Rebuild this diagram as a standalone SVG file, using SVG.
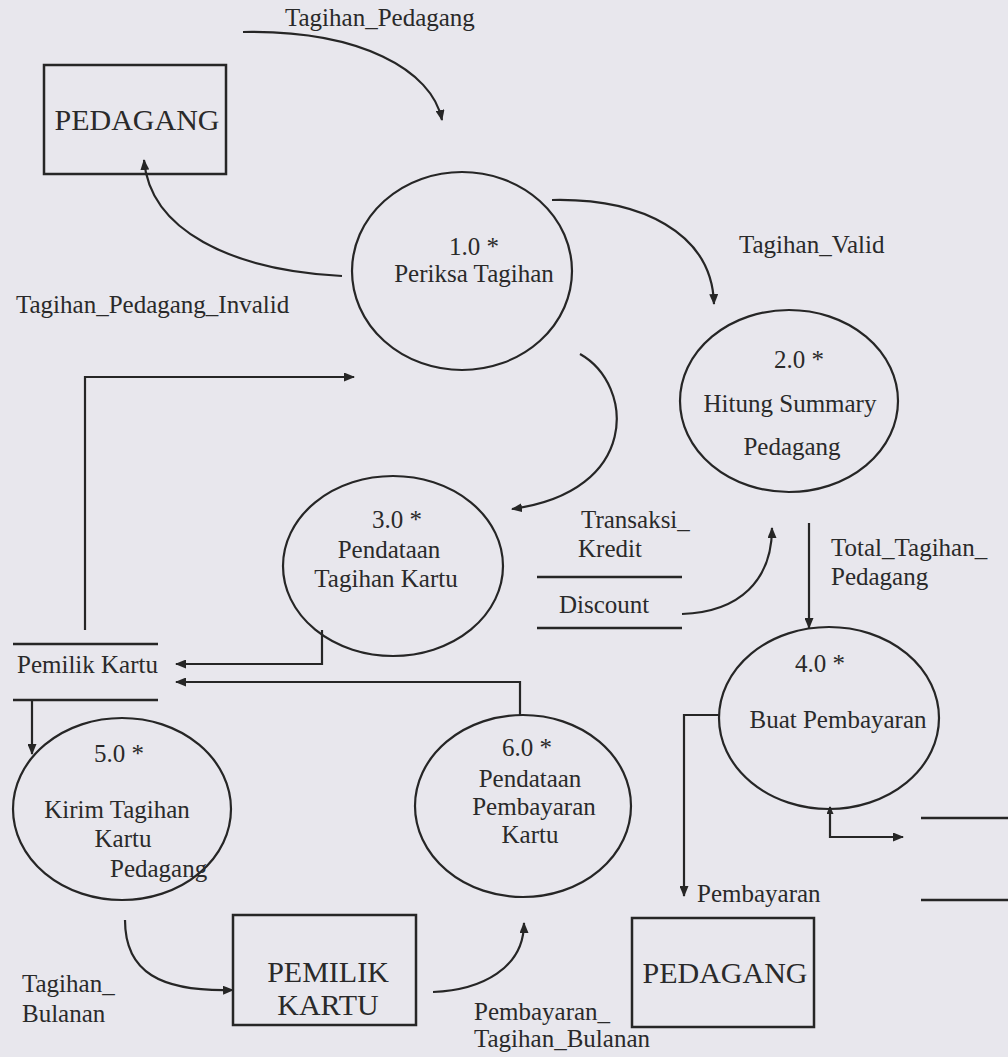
<svg xmlns="http://www.w3.org/2000/svg" width="1008" height="1057" viewBox="0 0 1008 1057">
<style>
text{font-family:"Liberation Serif","Times New Roman",serif;fill:#2a2a2a;font-size:25px}
.ent{font-size:30px;text-anchor:middle}
.mid{text-anchor:middle}
.proc ellipse{fill:none;stroke:#262626;stroke-width:2.2}
.box{fill:none;stroke:#262626;stroke-width:2.5}
.store line{stroke:#262626;stroke-width:2.5}
.flow path{fill:none;stroke:#262626;stroke-width:2.2}
</style>
<defs>
<marker id="arr" markerUnits="userSpaceOnUse" markerWidth="11" markerHeight="9" refX="10" refY="4.5" orient="auto">
<path d="M0,0 L11,4.5 L0,9 z" fill="#262626"/>
</marker>
<marker id="sarr" markerUnits="userSpaceOnUse" markerWidth="8" markerHeight="7" refX="7" refY="3.5" orient="auto-start-reverse">
<path d="M0,0 L8,3.5 L0,7 z" fill="#262626"/>
</marker>
</defs>
<rect x="0" y="0" width="1008" height="1057" fill="#e8e7ed"/>

<g id="pedagang-top">
<rect class="box" x="44" y="65" width="182" height="109"/>
<text class="ent" x="137" y="130">PEDAGANG</text>
</g>
<g id="pemilik-kartu-entity">
<rect class="box" x="233" y="915" width="183" height="110"/>
<text class="ent" x="328" y="982">PEMILIK</text>
<text class="ent" x="328" y="1015">KARTU</text>
</g>
<g id="pedagang-bottom">
<rect class="box" x="632" y="918" width="182" height="109"/>
<text class="ent" x="725" y="983">PEDAGANG</text>
</g>

<g id="p1" class="proc">
<ellipse cx="462" cy="271" rx="110" ry="99"/>
<text x="474" y="255" class="mid">1.0  *</text>
<text x="474" y="282" class="mid">Periksa Tagihan</text>
</g>
<g id="p2" class="proc">
<ellipse cx="789" cy="401" rx="109" ry="91"/>
<text x="799" y="368" class="mid">2.0 *</text>
<text x="790" y="412" class="mid">Hitung Summary</text>
<text x="792" y="455" class="mid">Pedagang</text>
</g>
<g id="p3" class="proc">
<ellipse cx="393" cy="566" rx="110" ry="90"/>
<text x="397" y="528" class="mid">3.0 *</text>
<text x="389" y="558" class="mid">Pendataan</text>
<text x="386" y="587" class="mid">Tagihan Kartu</text>
</g>
<g id="p4" class="proc">
<ellipse cx="829" cy="718" rx="110" ry="91"/>
<text x="820" y="672" class="mid">4.0 *</text>
<text x="838" y="728" class="mid">Buat Pembayaran</text>
</g>
<g id="p5" class="proc">
<ellipse cx="122" cy="809" rx="109" ry="91"/>
<text x="119" y="762" class="mid">5.0 *</text>
<text x="117" y="818" class="mid">Kirim Tagihan</text>
<text x="123" y="847" class="mid">Kartu</text>
<text x="110" y="877">Pedagang</text>
</g>
<g id="p6" class="proc">
<ellipse cx="523" cy="806" rx="108" ry="91"/>
<text x="527" y="756" class="mid">6.0 *</text>
<text x="530" y="787" class="mid">Pendataan</text>
<text x="534" y="815" class="mid">Pembayaran</text>
<text x="530" y="843" class="mid">Kartu</text>
</g>

<g id="store-pemilik-kartu" class="store">
<line x1="13" y1="644" x2="158" y2="644"/>
<line x1="13" y1="700" x2="158" y2="700"/>
<text x="17" y="673">Pemilik Kartu</text>
</g>
<g id="store-transaksi-kredit" class="store">
<line x1="537" y1="577" x2="682" y2="577"/>
<text x="581" y="528">Transaksi_</text>
<text x="578" y="557">Kredit</text>
</g>
<g id="store-discount" class="store">
<line x1="537" y1="628" x2="682" y2="628"/>
<text x="559" y="613">Discount</text>
</g>
<g id="store-right" class="store">
<line x1="921" y1="818" x2="1008" y2="818"/>
<line x1="921" y1="900" x2="1008" y2="900"/>
</g>

<g id="connectors" class="flow">
<path d="M243,32 C360,30 432,70 442,120" marker-end="url(#arr)"/>
<path d="M342,276 C230,270 150,230 144,160" marker-end="url(#arr)"/>
<path d="M552,200 C640,198 712,232 714,304" marker-end="url(#arr)"/>
<path d="M580,354 C635,385 640,492 512,509" marker-end="url(#arr)"/>
<path d="M682,614 C740,612 772,580 772,528" marker-end="url(#arr)"/>
<path d="M809,523 L809,628" marker-end="url(#arr)"/>
<path d="M85,630 L85,377 L354,377" marker-end="url(#arr)"/>
<path d="M322,630 L322,664 L176,664" marker-end="url(#arr)"/>
<path d="M520,715 L520,682 L176,682" marker-end="url(#arr)"/>
<path d="M32,700 L32,754" marker-end="url(#arr)"/>
<path d="M125,920 C125,972 160,992 233,990" marker-end="url(#arr)"/>
<path d="M433,992 C482,990 524,968 524,923" marker-end="url(#arr)"/>
<path d="M719,715 L684,715 L684,896" marker-end="url(#arr)"/>
<path d="M830,807 L830,837 L903,837" marker-start="url(#sarr)" marker-end="url(#arr)"/>
</g>

<g id="labels">
<text x="285" y="26">Tagihan_Pedagang</text>
<text x="16" y="313">Tagihan_Pedagang_Invalid</text>
<text x="739" y="253">Tagihan_Valid</text>
<text x="831" y="556">Total_Tagihan_</text>
<text x="831" y="585">Pedagang</text>
<text x="22" y="992">Tagihan_</text>
<text x="22" y="1022">Bulanan</text>
<text x="474" y="1020">Pembayaran_</text>
<text x="474" y="1047">Tagihan_Bulanan</text>
<text x="697" y="902">Pembayaran</text>
</g>
</svg>
